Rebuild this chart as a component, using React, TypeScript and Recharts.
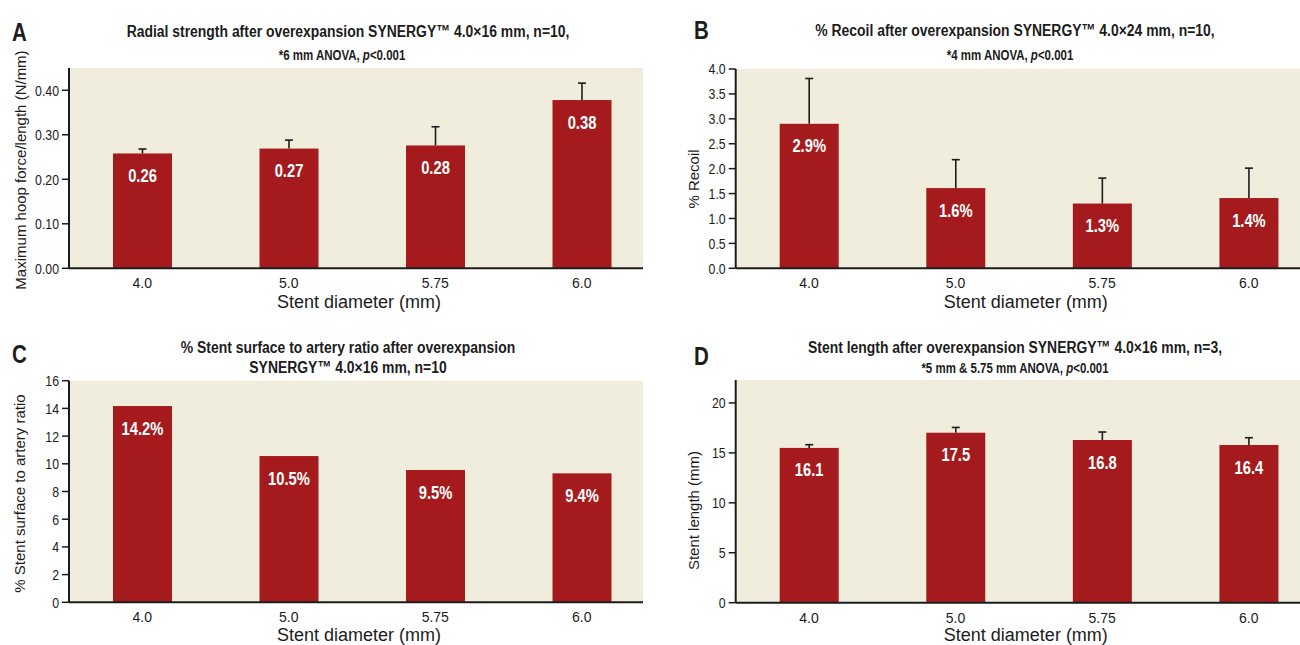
import React from 'react';
import { BarChart, Bar, XAxis, YAxis, Label, LabelList, CartesianGrid } from 'recharts';

// ---------- data ----------
const diameters = ['4.0', '5.0', '5.75', '6.0'];

const radialMean = [0.258, 0.269, 0.276, 0.378];
const radialSD = [0.01, 0.019, 0.042, 0.038];
const radialLabels = ['0.26', '0.27', '0.28', '0.38'];
const radialTicks = [0, 0.1, 0.2, 0.3, 0.4];

const recoilMean = [2.9, 1.61, 1.3, 1.41];
const recoilSD = [0.91, 0.57, 0.51, 0.6];
const recoilLabels = ['2.9%', '1.6%', '1.3%', '1.4%'];
const recoilTicks = [0, 0.5, 1, 1.5, 2, 2.5, 3, 3.5, 4];

const ratioMean = [14.17, 10.56, 9.55, 9.31];
const ratioSD = [0, 0, 0, 0];
const ratioLabels = ['14.2%', '10.5%', '9.5%', '9.4%'];
const ratioTicks = [0, 2, 4, 6, 8, 10, 12, 14, 16];

const lengthMean = [15.5, 17.02, 16.29, 15.79];
const lengthSD = [0.32, 0.53, 0.8, 0.73];
const lengthLabels = ['16.1', '17.5', '16.8', '16.4'];
const lengthTicks = [0, 5, 10, 15, 20];

// ---------- style ----------
const FONT = "'Liberation Sans', Arial, sans-serif";
const NARROW_SCALE = 0.82;
const BAR = '#A51B1D';
const BEIGE = '#F1EDDC';
const INK = '#1c1c1c';

const build = (mean: number[], sd: number[], labels: string[]) =>
  diameters.map((d, i) => ({ diameter: d, value: mean[i], sd: sd[i], label: labels[i] }));

// condensed text: regular font squeezed horizontally
const NText = ({ x, y, anchor = 'start', size, bold = false, fill = INK, children, dy }: any) => (
  <text
    transform={`translate(${x},${y}) scale(${NARROW_SCALE},1)`}
    textAnchor={anchor}
    fontFamily={FONT}
    fontSize={size}
    fontWeight={bold ? 'bold' : 'normal'}
    fill={fill}
    dy={dy}
  >
    {children}
  </text>
);

const BarWithError = (props: any) => {
  const { x, y, width, height, fill, payload } = props;
  const v = payload.value;
  const sd = payload.sd;
  const ppu = v ? height / v : 0;
  const cx = x + width / 2;
  const top = y - sd * ppu;
  return (
    <g>
      <rect x={x} y={y} width={width} height={height} fill={fill} />
      {sd > 0 && (
        <g>
          <line x1={cx} x2={cx} y1={y} y2={top} stroke={INK} strokeWidth={1.6} />
          <line x1={cx - 4} x2={cx + 4} y1={top} y2={top} stroke={INK} strokeWidth={1.6} />
        </g>
      )}
    </g>
  );
};

const YTick = (fmt: (v: number) => string) => (p: any) => (
  <NText x={p.x} y={p.y} anchor="end" size={15} dy="0.36em">
    {fmt(p.payload.value)}
  </NText>
);

const ValueLabel = (p: any) => {
  const { x, y, width, value } = p;
  return (
    <NText x={x + width / 2} y={y + 28.5} anchor="middle" size={18} bold fill="#ffffff">
      {value}
    </NText>
  );
};

type PanelProps = {
  data: any[];
  width: number;
  height: number;
  margin: any;
  domain: [number, number];
  ticks: number[];
  fmt: (v: number) => string;
  yTitle: string;
  yTitleX: number;
  yTitleY: number;
  xTitleDy: number;
};

const Panel = ({ data, width, height, margin, domain, ticks, fmt, yTitle, yTitleX, yTitleY, xTitleDy }: PanelProps) => (
  <BarChart width={width} height={height} data={data} margin={margin}>
    <CartesianGrid fill={BEIGE} stroke="none" horizontal={false} vertical={false} />
    <XAxis
      dataKey="diameter"
      height={30}
      tickLine={false}
      tickSize={6}
      tickMargin={4}
      axisLine={{ stroke: INK, strokeWidth: 2 }}
      tick={{ fill: INK, fontSize: 14, fontFamily: FONT }}
      interval={0}
    >
      <Label
        content={(p: any) => {
          const vb = p.viewBox;
          return (
            <text x={vb.x + vb.width / 2 - 3} y={vb.y + xTitleDy} textAnchor="middle" fill={INK} fontSize={18} fontFamily={FONT}>
              Stent diameter (mm)
            </text>
          );
        }}
      />
    </XAxis>
    <YAxis
      width={60}
      type="number"
      domain={domain}
      ticks={ticks}
      interval={0}
      tickSize={7}
      tickMargin={3}
      axisLine={{ stroke: INK, strokeWidth: 2 }}
      tickLine={{ stroke: INK, strokeWidth: 1.5 }}
      tick={YTick(fmt)}
    >
      <Label
        content={() => (
          <text
            x={yTitleX}
            y={yTitleY}
            transform={`rotate(-90 ${yTitleX} ${yTitleY})`}
            textAnchor="middle"
            dominantBaseline="central"
            fill={INK}
            fontSize={15}
            fontFamily={FONT}
          >
            {yTitle}
          </text>
        )}
      />
    </YAxis>
    <Bar dataKey="value" fill={BAR} barSize={59} isAnimationActive={false} shape={<BarWithError />}>
      <LabelList dataKey="label" content={ValueLabel} />
    </Bar>
  </BarChart>
);

const Titles = () => (
  <svg width={1300} height={645} style={{ position: 'absolute', left: 0, top: 0, pointerEvents: 'none' }}>
    <NText x={12} y={41} size={25} bold>A</NText>
    <NText x={694} y={39} size={25} bold>B</NText>
    <NText x={12} y={363} size={25} bold>C</NText>
    <NText x={694} y={365} size={25} bold>D</NText>

    <NText x={348} y={37} size={17} bold anchor="middle">Radial strength after overexpansion SYNERGY™ 4.0×16 mm, n=10,</NText>
    <NText x={342} y={59.5} size={14} bold anchor="middle">
      *6 mm ANOVA, <tspan fontStyle="italic">p</tspan>&lt;0.001
    </NText>

    <NText x={1015} y={36} size={17} bold anchor="middle">% Recoil after overexpansion SYNERGY™ 4.0×24 mm, n=10,</NText>
    <NText x={1010} y={59.5} size={14} bold anchor="middle">
      *4 mm ANOVA, <tspan fontStyle="italic">p</tspan>&lt;0.001
    </NText>

    <NText x={348} y={352.7} size={17} bold anchor="middle">% Stent surface to artery ratio after overexpansion</NText>
    <NText x={348} y={372.7} size={17} bold anchor="middle">SYNERGY™ 4.0×16 mm, n=10</NText>

    <NText x={1015} y={352.7} size={17} bold anchor="middle">Stent length after overexpansion SYNERGY™ 4.0×16 mm, n=3,</NText>
    <NText x={1015} y={373.3} size={14} bold anchor="middle">
      *5 mm &amp; 5.75 mm ANOVA, <tspan fontStyle="italic">p</tspan>&lt;0.001
    </NText>
  </svg>
);

export default function App() {
  const box = (left: number, top: number, w: number, h: number): React.CSSProperties => ({
    position: 'absolute',
    left,
    top,
    width: w,
    height: h,
    overflow: 'hidden',
  });
  return (
    <div style={{ position: 'absolute', left: 0, top: 0, width: 1300, height: 645, background: '#ffffff', overflow: 'hidden' }}>
      <div style={box(0, 0, 643, 322)}>
        <Panel
          data={build(radialMean, radialSD, radialLabels)}
          width={655}
          height={322}
          margin={{ top: 68, right: 0, bottom: 23.7, left: 9 }}
          domain={[0, 0.45]}
          ticks={radialTicks}
          fmt={(v) => v.toFixed(2)}
          yTitle="Maximum hoop force/length (N/mm)"
          yTitleX={20}
          yTitleY={170}
          xTitleDy={40}
        />
      </div>
      <div style={box(650, 0, 650, 322)}>
        <Panel
          data={build(recoilMean, recoilSD, recoilLabels)}
          width={672}
          height={322}
          margin={{ top: 69, right: 0, bottom: 23.7, left: 25.7 }}
          domain={[0, 4]}
          ticks={recoilTicks}
          fmt={(v) => v.toFixed(1)}
          yTitle="% Recoil"
          yTitleX={43}
          yTitleY={179}
          xTitleDy={40}
        />
      </div>
      <div style={box(0, 322, 643, 323)}>
        <Panel
          data={build(ratioMean, ratioSD, ratioLabels)}
          width={655}
          height={323}
          margin={{ top: 58.7, right: 0, bottom: 12.7, left: 9 }}
          domain={[0, 16]}
          ticks={ratioTicks}
          fmt={(v) => String(v)}
          yTitle="% Stent surface to artery ratio"
          yTitleX={19}
          yTitleY={171.5}
          xTitleDy={38.5}
        />
      </div>
      <div style={box(650, 322, 650, 323)}>
        <Panel
          data={build(lengthMean, lengthSD, lengthLabels)}
          width={672}
          height={323}
          margin={{ top: 58, right: 0, bottom: 12.3, left: 25.7 }}
          domain={[0, 22.3]}
          ticks={lengthTicks}
          fmt={(v) => String(v)}
          yTitle="Stent length (mm)"
          yTitleX={43}
          yTitleY={188.5}
          xTitleDy={38.5}
        />
      </div>
      <Titles />
    </div>
  );
}
